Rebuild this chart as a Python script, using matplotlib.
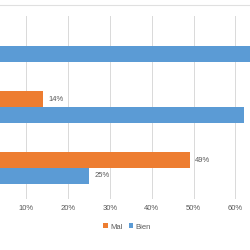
import matplotlib
matplotlib.use("Agg")
import matplotlib.pyplot as plt
from matplotlib.lines import Line2D
from matplotlib.ticker import PercentFormatter
import numpy as np

categories = ["Cat 1", "Cat 2", "Cat 3"]
mal = [0.00, 0.14, 0.49]
bien = [0.86, 0.62, 0.25]
xticks = [0.1, 0.2, 0.3, 0.4, 0.5, 0.6]

orange = "#ED7D31"
blue = "#5B9BD5"
grey = "#595959"

plt.rcParams["font.family"] = ["Liberation Sans", "DejaVu Sans"]

fig = plt.figure(figsize=(2.5, 2.5), dpi=100)
# the visible picture is a crop: the 0% axis sits just left of the frame
x0 = -15.3 / 250
ax = fig.add_axes([x0, 0.206, 1 - x0, 0.732])
xmax = 265.3 / 418

y = np.arange(len(categories))[::-1]
h = 0.262
ax.barh(y + h / 2, mal, height=h, color=orange, label="Mal", zorder=3)
ax.barh(y - h / 2, bien, height=h, color=blue, label="Bien", zorder=3)

for yi, m, b in zip(y, mal, bien):
    if m > 0:
        ax.text(m + 0.012, yi + h / 2, f"{m:.0%}", va="center", ha="left",
                fontsize=5.5, color=grey, clip_on=True)
    if b + 0.05 < xmax:
        ax.text(b + 0.012, yi - h / 2, f"{b:.0%}", va="center", ha="left",
                fontsize=5.5, color=grey, clip_on=True)

ax.set_xlim(0, xmax)
ax.set_ylim(-0.5, 2.5)
ax.set_xticks(xticks)
ax.xaxis.set_major_formatter(PercentFormatter(1.0, decimals=0))
# category names sit outside the cropped frame
ax.set_yticks(y)
ax.set_yticklabels([])
ax.tick_params(axis="x", length=0, labelsize=5.5, labelcolor=grey, pad=5)
ax.tick_params(axis="y", length=0)
ax.grid(axis="x", color="#D9D9D9", linewidth=0.7, zorder=0)
for s in ax.spines.values():
    s.set_visible(False)

fig.add_artist(Line2D([0, 1], [0.979, 0.979], color="#E0E0E0", linewidth=0.8))

ax.legend(loc="center", bbox_to_anchor=(127 / 250, 23 / 250),
          bbox_transform=fig.transFigure, ncol=2, frameon=False,
          fontsize=5.5, labelcolor=grey, handlelength=0.6, handleheight=0.6,
          handletextpad=0.3, columnspacing=0.8)

fig.savefig("out.png", dpi=100)
